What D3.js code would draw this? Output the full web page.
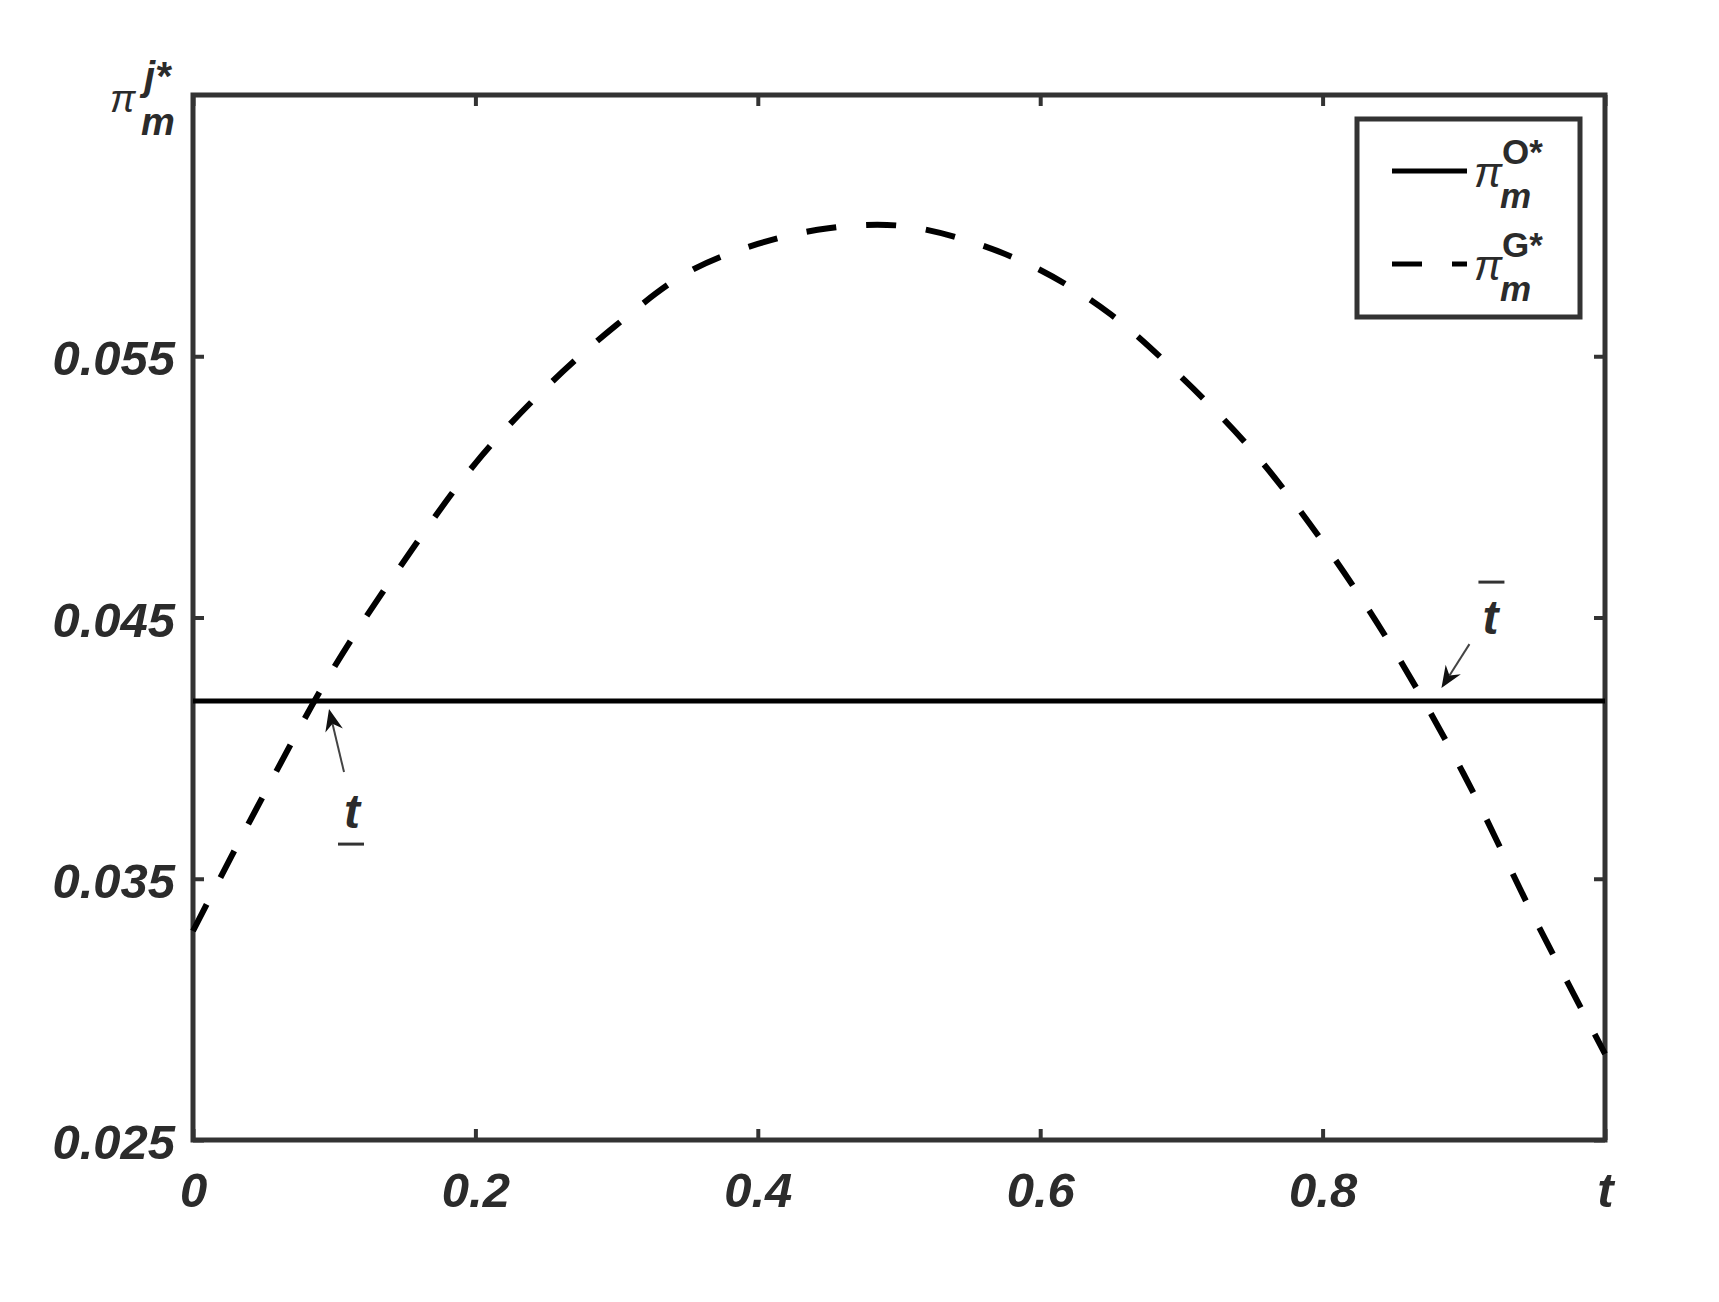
<!DOCTYPE html>
<html>
<head>
<meta charset="utf-8">
<script src="https://cdn.jsdelivr.net/npm/d3@7"></script>
<style>
  body { margin: 0; background: #fff; }
  text { font-family: "Liberation Sans", Arial, sans-serif; fill: #2b2b2b; }
</style>
</head>
<body>
<div id="chart"></div>
<script>
  // Data
  var tValues = [0, 0.05, 0.10, 0.15, 0.20, 0.25, 0.30, 0.35, 0.40, 0.45, 0.50,
                 0.55, 0.60, 0.65, 0.70, 0.75, 0.80, 0.85, 0.90, 0.95, 1.00];
  var piG = [0.0330, 0.0382, 0.0431, 0.0472, 0.0509, 0.0538, 0.0562, 0.0582, 0.0593, 0.0599, 0.0600,
             0.0594, 0.0583, 0.0566, 0.0542, 0.0514, 0.0479, 0.0438, 0.0390, 0.0335, 0.0283];
  var piO = 0.0418; // flat line
  var xTicks = [0, 0.2, 0.4, 0.6, 0.8, 1];
  var xTickLabels = ["0", "0.2", "0.4", "0.6", "0.8", "t"];
  var yTicks = [0.025, 0.035, 0.045, 0.055];
  var yTickLabels = ["0.025", "0.035", "0.045", "0.055"];
  var crossLow = 0.085, crossHigh = 0.870; // marked intersections

  var width = 1719, height = 1302;
  var margin = { top: 95, right: 114, bottom: 162, left: 193 };
  var axisColor = "#333";

  var svg = d3.select("#chart").append("svg")
      .attr("width", width)
      .attr("height", height);

  var x = d3.scaleLinear().domain([0, 1]).range([margin.left, width - margin.right]);
  var y = d3.scaleLinear().domain([0.025, 0.065]).range([height - margin.bottom, margin.top]);

  // Axes (ticks point inward, like MATLAB)
  var tickFont = "bold italic 49px 'Liberation Sans', Arial, sans-serif";

  var gx = svg.append("g")
      .attr("transform", "translate(0," + y(0.025) + ")")
      .call(d3.axisBottom(x).tickValues(xTicks).tickSize(-11).tickPadding(32)
              .tickFormat(function(d, i) { return xTickLabels[i]; }));
  var gy = svg.append("g")
      .attr("transform", "translate(" + x(0) + ",0)")
      .call(d3.axisLeft(y).tickValues(yTicks).tickSize(-11).tickPadding(18)
              .tickFormat(function(d, i) { return yTickLabels[i]; }));
  var gxTop = svg.append("g")
      .attr("transform", "translate(0," + y(0.065) + ")")
      .call(d3.axisTop(x).tickValues(xTicks).tickSize(-11).tickFormat(""));
  var gyRight = svg.append("g")
      .attr("transform", "translate(" + x(1) + ",0)")
      .call(d3.axisRight(y).tickValues(yTicks).tickSize(-11).tickFormat(""));

  [gx, gy, gxTop, gyRight].forEach(function(g) {
    g.select(".domain").remove();
    g.selectAll(".tick line").attr("stroke", axisColor).attr("stroke-width", 4);
    g.selectAll(".tick text").style("font", tickFont).attr("fill", "#2b2b2b");
  });
  gy.selectAll(".tick text").attr("dy", "0.38em");

  // Plot box
  svg.append("rect")
      .attr("x", x(0)).attr("y", y(0.065))
      .attr("width", x(1) - x(0)).attr("height", y(0.025) - y(0.065))
      .attr("fill", "none")
      .attr("stroke", axisColor)
      .attr("stroke-width", 5);

  // Series
  var line = d3.line()
      .x(function(d) { return x(d[0]); })
      .y(function(d) { return y(d[1]); })
      .curve(d3.curveCatmullRom);

  svg.append("path")
      .datum(tValues.map(function(t) { return [t, piO]; }))
      .attr("d", line)
      .attr("fill", "none")
      .attr("stroke", "#000")
      .attr("stroke-width", 5);

  svg.append("path")
      .datum(tValues.map(function(t, i) { return [t, piG[i]]; }))
      .attr("d", line)
      .attr("fill", "none")
      .attr("stroke", "#000")
      .attr("stroke-width", 6)
      .attr("stroke-dasharray", "30,30");

  // Y axis label  pi_m^{j*}
  var ylab = svg.append("g");
  ylab.append("text").attr("x", 110).attr("y", 112)
      .style("font", "italic 38px 'Liberation Sans', Arial, sans-serif").text("π");
  ylab.append("text").attr("x", 144).attr("y", 90)
      .style("font", "bold italic 40px 'Liberation Sans', Arial, sans-serif").text("j*");
  ylab.append("text").attr("x", 141).attr("y", 135)
      .style("font", "bold italic 38px 'Liberation Sans', Arial, sans-serif").text("m");

  // Arrows pointing at the two crossings
  function arrow(x1, y1, x2, y2) {
    var ang = Math.atan2(y2 - y1, x2 - x1);
    var len = 22, half = 9, notch = 7;
    var bx = x2 - len * Math.cos(ang), by = y2 - len * Math.sin(ang);
    var nx = x2 - (len - notch) * Math.cos(ang), ny = y2 - (len - notch) * Math.sin(ang);
    var px = -Math.sin(ang) * half, py = Math.cos(ang) * half;
    svg.append("line")
        .attr("x1", x1).attr("y1", y1).attr("x2", nx).attr("y2", ny)
        .attr("stroke", "#444").attr("stroke-width", 2);
    svg.append("path")
        .attr("d", "M" + x2 + "," + y2 + "L" + (bx + px) + "," + (by + py) +
                   "L" + nx + "," + ny + "L" + (bx - px) + "," + (by - py) + "Z")
        .attr("fill", "#111");
  }
  arrow(x(crossLow) + 31, y(piO) + 71, x(crossLow) + 16, y(piO) + 8);
  arrow(x(crossHigh) + 48, y(piO) - 57, x(crossHigh) + 20, y(piO) - 13);

  var annFont = "bold italic 48px 'Liberation Sans', Arial, sans-serif";
  svg.append("text").attr("x", x(crossLow) + 39).attr("y", y(piO) + 127)
      .attr("text-anchor", "middle").style("font", annFont).text("t");
  svg.append("line")
      .attr("x1", x(crossLow) + 25).attr("x2", x(crossLow) + 51)
      .attr("y1", y(piO) + 143).attr("y2", y(piO) + 143)
      .attr("stroke", "#333").attr("stroke-width", 3);

  svg.append("text").attr("x", x(crossHigh) + 69).attr("y", y(piO) - 67)
      .attr("text-anchor", "middle").style("font", annFont).text("t");
  svg.append("line")
      .attr("x1", x(crossHigh) + 57).attr("x2", x(crossHigh) + 83)
      .attr("y1", y(piO) - 119).attr("y2", y(piO) - 119)
      .attr("stroke", "#333").attr("stroke-width", 3);

  // Legend
  var legend = svg.append("g");
  legend.append("rect")
      .attr("x", 1357).attr("y", 119).attr("width", 223).attr("height", 198)
      .attr("fill", "#fff").attr("stroke", axisColor).attr("stroke-width", 5);

  var legendItems = [
    { sup: "O*", dash: null, ly: 171 },
    { sup: "G*", dash: "30,30", ly: 264 }
  ];
  legendItems.forEach(function(item) {
    legend.append("line")
        .attr("x1", 1392).attr("x2", 1467)
        .attr("y1", item.ly).attr("y2", item.ly)
        .attr("stroke", "#000").attr("stroke-width", 5)
        .attr("stroke-dasharray", item.dash);
    legend.append("text").attr("x", 1474).attr("y", item.ly + 16)
        .style("font", "italic 42px 'Liberation Sans', Arial, sans-serif").text("π");
    legend.append("text").attr("x", 1502).attr("y", item.ly - 7)
        .style("font", "bold 35px 'Liberation Sans', Arial, sans-serif").text(item.sup);
    legend.append("text").attr("x", 1500).attr("y", item.ly + 37)
        .style("font", "bold italic 35px 'Liberation Sans', Arial, sans-serif").text("m");
  });
</script>
</body>
</html>
